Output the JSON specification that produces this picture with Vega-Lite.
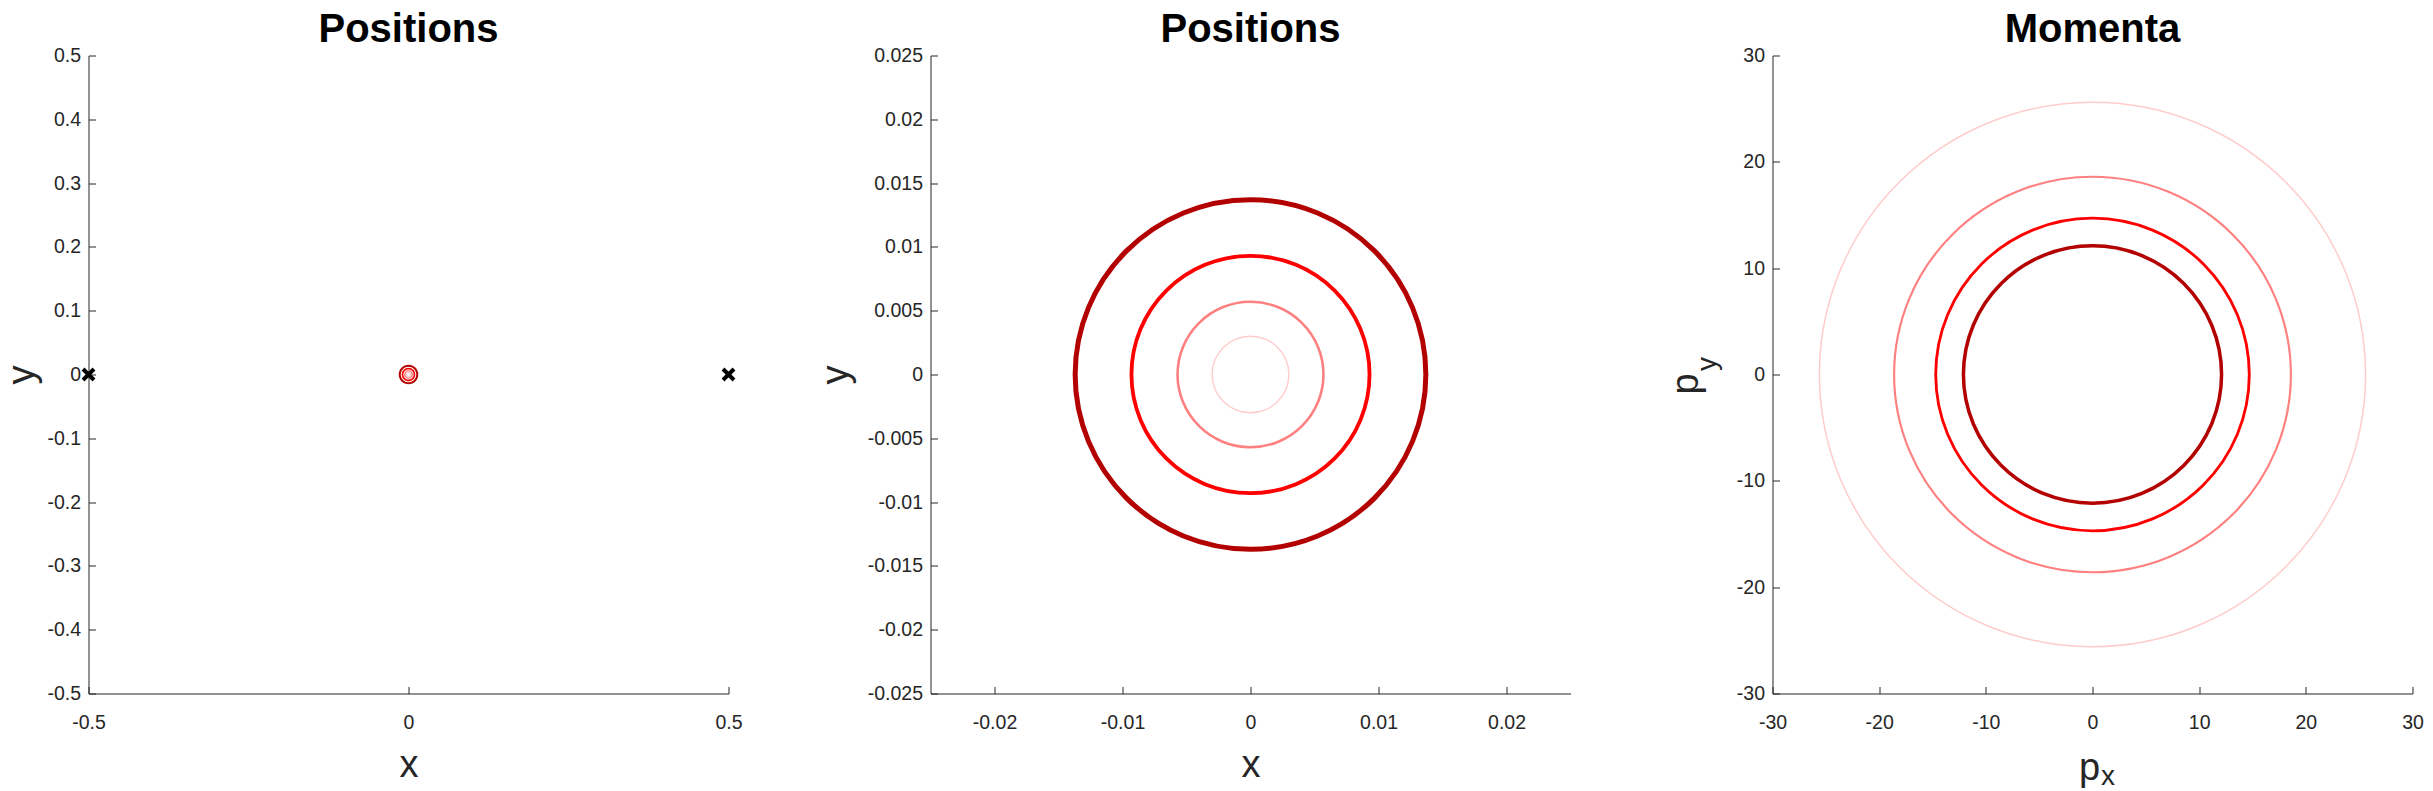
{
  "$schema": "https://vega.github.io/schema/vega-lite/v6.json",
  "background": "white",
  "padding": {"left": 3.5, "top": 9.5, "right": 0, "bottom": 0},
  "spacing": 202,
  "bounds": "flush",
  "config": {
    "view": {"stroke": null},
    "font": "Liberation Sans",
    "axis": {
      "domainColor": "#262626", "tickColor": "#262626", "labelColor": "#262626", "titleColor": "#262626",
      "labelFont": "Liberation Sans", "labelFontSize": 19.5, "titleFont": "Liberation Sans", "titleFontSize": 38,
      "titleFontWeight": "normal", "grid": false, "tickSize": -7, "domainWidth": 1, "tickWidth": 1,
      "labelFlush": false, "labelOverlap": false, "labelExpr": "'' + datum.value"
    },
    "axisX": {"labelPadding": 27},
    "axisY": {"labelPadding": 15},
    "title": {"font": "Liberation Sans", "fontSize": 40, "fontWeight": "bold", "color": "black", "anchor": "middle", "frame": "group", "baseline": "alphabetic", "offset": -4}
  },
  "resolve": {"scale": {"x": "independent", "y": "independent", "color": "independent", "strokeWidth": "independent"}},
  "datasets": {
    "orbits": [
      {"o":1,"i":0,"x":0.0137,"y":0,"px":12.1,"py":0},
      {"o":1,"i":1,"x":0.012657,"y":0.005243,"px":11.179,"py":4.631},
      {"o":1,"i":2,"x":0.009687,"y":0.009687,"px":8.556,"py":8.556},
      {"o":1,"i":3,"x":0.005243,"y":0.012657,"px":4.631,"py":11.179},
      {"o":1,"i":4,"x":0,"y":0.0137,"px":0,"py":12.1},
      {"o":1,"i":5,"x":-0.005243,"y":0.012657,"px":-4.631,"py":11.179},
      {"o":1,"i":6,"x":-0.009687,"y":0.009687,"px":-8.556,"py":8.556},
      {"o":1,"i":7,"x":-0.012657,"y":0.005243,"px":-11.179,"py":4.631},
      {"o":1,"i":8,"x":-0.0137,"y":0,"px":-12.1,"py":0},
      {"o":1,"i":9,"x":-0.012657,"y":-0.005243,"px":-11.179,"py":-4.631},
      {"o":1,"i":10,"x":-0.009687,"y":-0.009687,"px":-8.556,"py":-8.556},
      {"o":1,"i":11,"x":-0.005243,"y":-0.012657,"px":-4.631,"py":-11.179},
      {"o":1,"i":12,"x":0,"y":-0.0137,"px":0,"py":-12.1},
      {"o":1,"i":13,"x":0.005243,"y":-0.012657,"px":4.631,"py":-11.179},
      {"o":1,"i":14,"x":0.009687,"y":-0.009687,"px":8.556,"py":-8.556},
      {"o":1,"i":15,"x":0.012657,"y":-0.005243,"px":11.179,"py":-4.631},
      {"o":2,"i":0,"x":0.0093,"y":0,"px":14.7,"py":0},
      {"o":2,"i":1,"x":0.008592,"y":0.003559,"px":13.581,"py":5.626},
      {"o":2,"i":2,"x":0.006576,"y":0.006576,"px":10.394,"py":10.394},
      {"o":2,"i":3,"x":0.003559,"y":0.008592,"px":5.626,"py":13.581},
      {"o":2,"i":4,"x":0,"y":0.0093,"px":0,"py":14.7},
      {"o":2,"i":5,"x":-0.003559,"y":0.008592,"px":-5.626,"py":13.581},
      {"o":2,"i":6,"x":-0.006576,"y":0.006576,"px":-10.394,"py":10.394},
      {"o":2,"i":7,"x":-0.008592,"y":0.003559,"px":-13.581,"py":5.626},
      {"o":2,"i":8,"x":-0.0093,"y":0,"px":-14.7,"py":0},
      {"o":2,"i":9,"x":-0.008592,"y":-0.003559,"px":-13.581,"py":-5.626},
      {"o":2,"i":10,"x":-0.006576,"y":-0.006576,"px":-10.394,"py":-10.394},
      {"o":2,"i":11,"x":-0.003559,"y":-0.008592,"px":-5.626,"py":-13.581},
      {"o":2,"i":12,"x":0,"y":-0.0093,"px":0,"py":-14.7},
      {"o":2,"i":13,"x":0.003559,"y":-0.008592,"px":5.626,"py":-13.581},
      {"o":2,"i":14,"x":0.006576,"y":-0.006576,"px":10.394,"py":-10.394},
      {"o":2,"i":15,"x":0.008592,"y":-0.003559,"px":13.581,"py":-5.626},
      {"o":3,"i":0,"x":0.0057,"y":0,"px":18.6,"py":0},
      {"o":3,"i":1,"x":0.005266,"y":0.002181,"px":17.185,"py":7.118},
      {"o":3,"i":2,"x":0.00403,"y":0.00403,"px":13.152,"py":13.152},
      {"o":3,"i":3,"x":0.002181,"y":0.005266,"px":7.118,"py":17.185},
      {"o":3,"i":4,"x":0,"y":0.0057,"px":0,"py":18.6},
      {"o":3,"i":5,"x":-0.002181,"y":0.005266,"px":-7.118,"py":17.185},
      {"o":3,"i":6,"x":-0.00403,"y":0.00403,"px":-13.152,"py":13.152},
      {"o":3,"i":7,"x":-0.005266,"y":0.002181,"px":-17.185,"py":7.118},
      {"o":3,"i":8,"x":-0.0057,"y":0,"px":-18.6,"py":0},
      {"o":3,"i":9,"x":-0.005266,"y":-0.002181,"px":-17.185,"py":-7.118},
      {"o":3,"i":10,"x":-0.00403,"y":-0.00403,"px":-13.152,"py":-13.152},
      {"o":3,"i":11,"x":-0.002181,"y":-0.005266,"px":-7.118,"py":-17.185},
      {"o":3,"i":12,"x":0,"y":-0.0057,"px":0,"py":-18.6},
      {"o":3,"i":13,"x":0.002181,"y":-0.005266,"px":7.118,"py":-17.185},
      {"o":3,"i":14,"x":0.00403,"y":-0.00403,"px":13.152,"py":-13.152},
      {"o":3,"i":15,"x":0.005266,"y":-0.002181,"px":17.185,"py":-7.118},
      {"o":4,"i":0,"x":0.003,"y":0,"px":25.6,"py":0},
      {"o":4,"i":1,"x":0.002772,"y":0.001148,"px":23.652,"py":9.797},
      {"o":4,"i":2,"x":0.002121,"y":0.002121,"px":18.102,"py":18.102},
      {"o":4,"i":3,"x":0.001148,"y":0.002772,"px":9.797,"py":23.652},
      {"o":4,"i":4,"x":0,"y":0.003,"px":0,"py":25.6},
      {"o":4,"i":5,"x":-0.001148,"y":0.002772,"px":-9.797,"py":23.652},
      {"o":4,"i":6,"x":-0.002121,"y":0.002121,"px":-18.102,"py":18.102},
      {"o":4,"i":7,"x":-0.002772,"y":0.001148,"px":-23.652,"py":9.797},
      {"o":4,"i":8,"x":-0.003,"y":0,"px":-25.6,"py":0},
      {"o":4,"i":9,"x":-0.002772,"y":-0.001148,"px":-23.652,"py":-9.797},
      {"o":4,"i":10,"x":-0.002121,"y":-0.002121,"px":-18.102,"py":-18.102},
      {"o":4,"i":11,"x":-0.001148,"y":-0.002772,"px":-9.797,"py":-23.652},
      {"o":4,"i":12,"x":0,"y":-0.003,"px":0,"py":-25.6},
      {"o":4,"i":13,"x":0.001148,"y":-0.002772,"px":9.797,"py":-23.652},
      {"o":4,"i":14,"x":0.002121,"y":-0.002121,"px":18.102,"py":-18.102},
      {"o":4,"i":15,"x":0.002772,"y":-0.001148,"px":23.652,"py":-9.797}
    ],
    "fixed": [{"x": -0.5, "y": 0}, {"x": 0.5, "y": 0}]
  },
  "hconcat": [
    {
      "width": 640, "height": 638,
      "title": "Positions",
      "layer": [
        {
          "data": {"name": "orbits"},
          "mark": {"type": "line", "interpolate": "cardinal-closed", "clip": false},
          "encoding": {
            "x": {"field": "x", "type": "quantitative", "scale": {"domain": [-0.5, 0.5], "nice": false, "zero": false},
                  "axis": {"values": [-0.5, 0, 0.5], "title": "x", "titleX": 320, "titleY": 83, "titleAlign": "center", "titleBaseline": "alphabetic"}},
            "y": {"field": "y", "type": "quantitative", "scale": {"domain": [-0.5, 0.5], "nice": false, "zero": false},
                  "axis": {"values": [-0.5, -0.4, -0.3, -0.2, -0.1, 0, 0.1, 0.2, 0.3, 0.4, 0.5], "title": "y", "titleX": -55, "titleY": 319, "titleAngle": -90, "titleAlign": "center", "titleBaseline": "alphabetic"}},
            "order": {"field": "i", "type": "quantitative"},
            "color": {"field": "o", "type": "ordinal", "scale": {"domain": [1, 2, 3, 4], "range": ["#b30000", "#ff0000", "#ff8080", "#ffcccc"]}, "legend": null},
            "strokeWidth": {"field": "o", "type": "ordinal", "scale": {"domain": [1, 2, 3, 4], "range": [2, 1.2, 1, 1]}, "legend": null}
          }
        },
        {
          "data": {"name": "fixed"},
          "mark": {"type": "point", "shape": "M-1,-1L1,1M-1,1L1,-1", "color": "black", "filled": false, "strokeWidth": 4, "size": 120, "opacity": 1, "clip": false},
          "encoding": {
            "x": {"field": "x", "type": "quantitative"},
            "y": {"field": "y", "type": "quantitative"}
          }
        }
      ]
    },
    {
      "width": 640, "height": 638,
      "title": "Positions",
      "data": {"name": "orbits"},
      "mark": {"type": "line", "interpolate": "cardinal-closed", "clip": false},
      "encoding": {
        "x": {"field": "x", "type": "quantitative", "scale": {"domain": [-0.025, 0.025], "nice": false, "zero": false},
              "axis": {"values": [-0.02, -0.01, 0, 0.01, 0.02], "title": "x", "titleX": 320, "titleY": 83, "titleAlign": "center", "titleBaseline": "alphabetic"}},
        "y": {"field": "y", "type": "quantitative", "scale": {"domain": [-0.025, 0.025], "nice": false, "zero": false},
              "axis": {"values": [-0.025, -0.02, -0.015, -0.01, -0.005, 0, 0.005, 0.01, 0.015, 0.02, 0.025], "title": "y", "titleX": -83, "titleY": 319, "titleAngle": -90, "titleAlign": "center", "titleBaseline": "alphabetic"}},
        "order": {"field": "i", "type": "quantitative"},
        "color": {"field": "o", "type": "ordinal", "scale": {"domain": [1, 2, 3, 4], "range": ["#b30000", "#ff0000", "#ff8080", "#ffcccc"]}, "legend": null},
        "strokeWidth": {"field": "o", "type": "ordinal", "scale": {"domain": [1, 2, 3, 4], "range": [5, 1.4, 1.1, 0.9]}, "legend": null}
      }
    },
    {
      "width": 640, "height": 638,
      "title": "Momenta",
      "resolve": {"scale": {"x": "independent", "y": "independent"}, "axis": {"x": "independent", "y": "independent"}},
      "layer": [
        {
          "data": {"name": "orbits"},
          "mark": {"type": "line", "interpolate": "cardinal-closed", "clip": false},
          "encoding": {
            "x": {"field": "px", "type": "quantitative", "scale": {"domain": [-30, 30], "nice": false, "zero": false},
                  "axis": {"values": [-30, -20, -10, 0, 10, 20, 30], "title": "p", "titleX": 306, "titleY": 86, "titleAlign": "left", "titleBaseline": "alphabetic"}},
            "y": {"field": "py", "type": "quantitative", "scale": {"domain": [-30, 30], "nice": false, "zero": false},
                  "axis": {"values": [-30, -20, -10, 0, 10, 20, 30], "title": "p", "titleX": -75, "titleY": 328, "titleAngle": -90, "titleAlign": "center", "titleBaseline": "alphabetic"}},
            "order": {"field": "i", "type": "quantitative"},
            "color": {"field": "o", "type": "ordinal", "scale": {"domain": [1, 2, 3, 4], "range": ["#b30000", "#ff0000", "#ff8080", "#ffcccc"]}, "legend": null},
            "strokeWidth": {"field": "o", "type": "ordinal", "scale": {"domain": [1, 2, 3, 4], "range": [3.5, 1.5, 1.2, 1]}, "legend": null}
          }
        },
        {
          "data": {"name": "orbits"},
          "mark": {"type": "point", "opacity": 0},
          "encoding": {
            "x": {"field": "px", "type": "quantitative", "scale": {"domain": [-30, 30], "nice": false, "zero": false},
                  "axis": {"orient": "bottom", "domain": false, "ticks": false, "labels": false, "title": "x", "titleFontSize": 28, "titleX": 328, "titleY": 91, "titleAlign": "left", "titleBaseline": "alphabetic"}},
            "y": {"field": "py", "type": "quantitative", "scale": {"domain": [-30, 30], "nice": false, "zero": false},
                  "axis": {"orient": "left", "domain": false, "ticks": false, "labels": false, "title": "y", "titleFontSize": 28, "titleX": -57, "titleY": 308, "titleAngle": -90, "titleAlign": "center", "titleBaseline": "alphabetic"}}
          }
        }
      ]
    }
  ]
}
